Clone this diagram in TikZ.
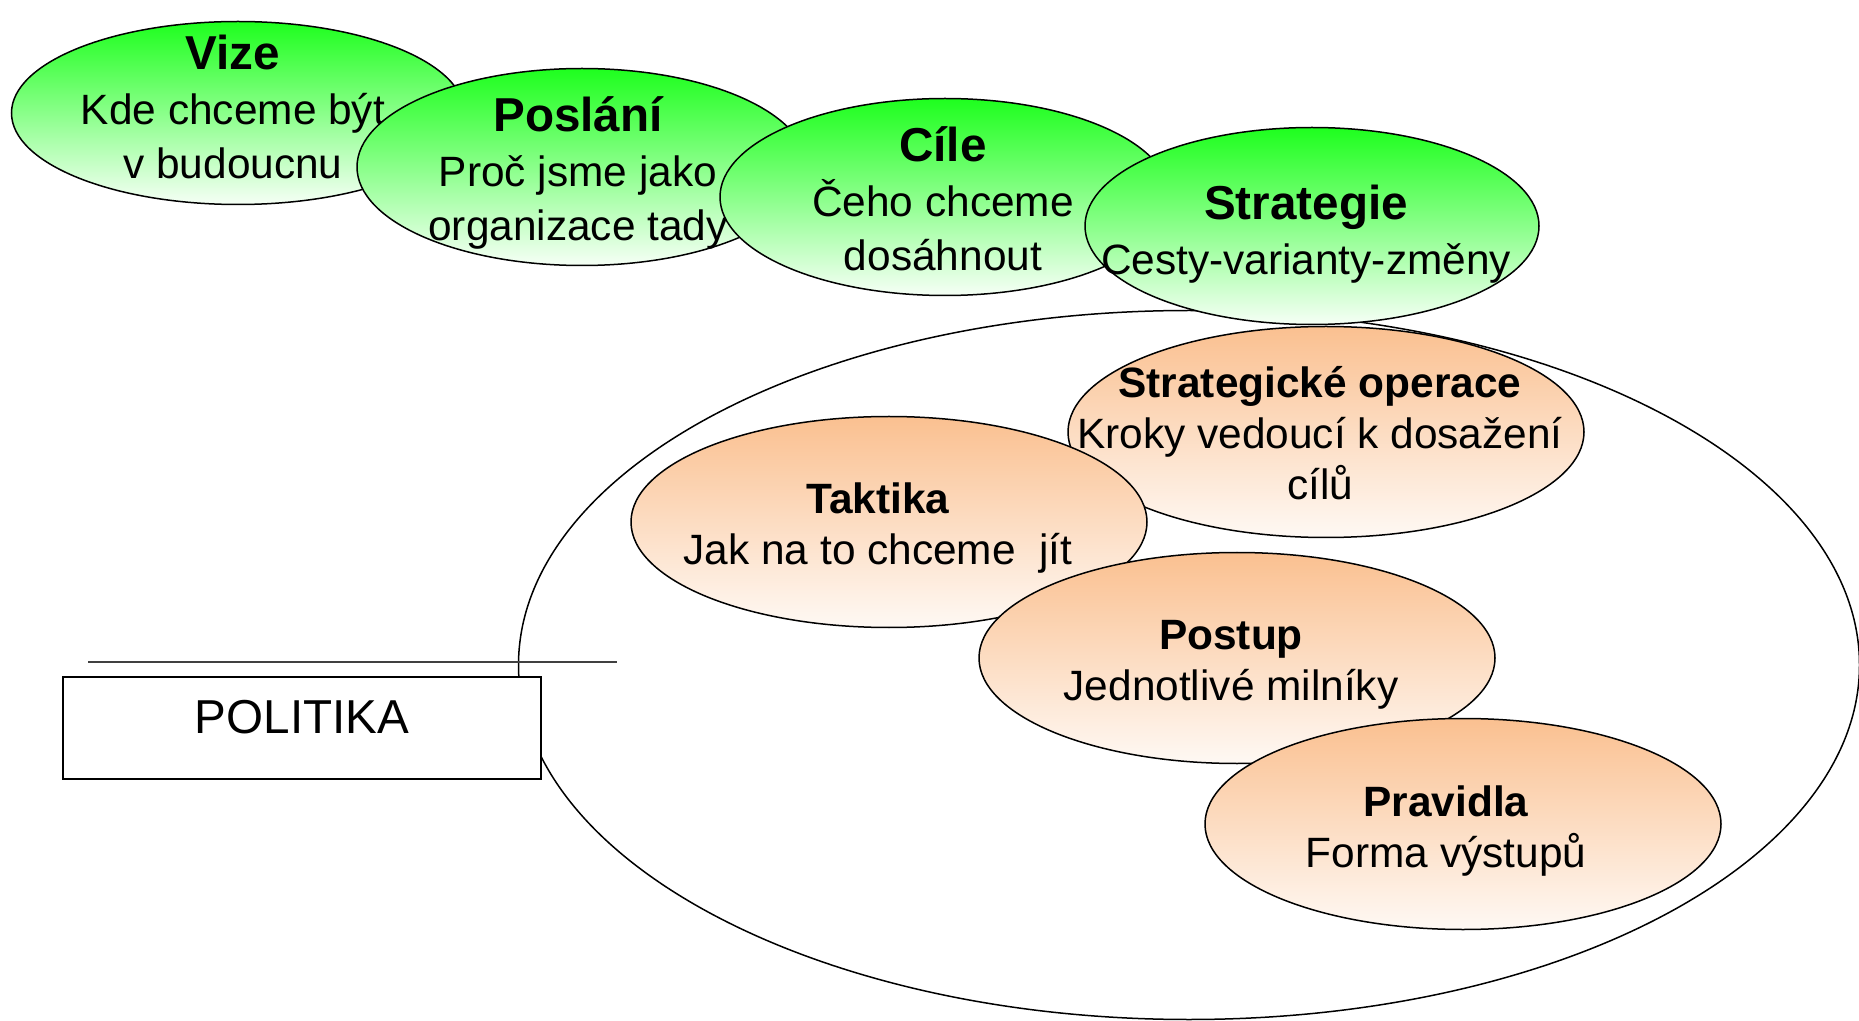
\documentclass[tikz,border=0pt]{standalone}
\usepackage{fontspec}
\setmainfont{Liberation Sans}
\usetikzlibrary{shapes.geometric}
\definecolor{topgreen}{RGB}{30,255,30}
\definecolor{toporange}{RGB}{250,192,144}
\colorlet{bottomgreen}{topgreen!4!white}
\colorlet{bottomorange}{toporange!10!white}
\newcommand\nadpis{\fontsize{23.8}{27.3}\selectfont\bfseries}
\newcommand\oranzovynadpis{\bfseries}

\begin{document}
\begin{tikzpicture}
  [x=0.5pt, y=-0.5pt,
   pojem/.style 2 args={
     ellipse,
     draw,
     line width=0.75pt,
     inner sep=0pt,
     minimum width=#1,
     minimum height=#2
     },
   zelena/.style={pojem={225pt}{98.5pt}, top color=topgreen, bottom color=bottomgreen},
   oranzova/.style={pojem={258pt}{105.5pt}, top color=toporange, bottom color=bottomorange},
   popis/.style={align=center, font=\fontsize{21.2}{27.3}\selectfont},
   oranzovypopis/.style={align=center, font=\fontsize{21.2}{25.4}\selectfont}
  ]
  \useasboundingbox (0,0) rectangle (1859,1021);

  % velka elipsa pod vsim
  \node [pojem={670.5pt}{354.5pt}] (oblast) at (1189,665) {};

  \node [zelena, minimum height=91.5pt, minimum width=226.5pt] (vize) at (238,113) {};
  \node [popis] (vizetext) at (233,107) {{\nadpis Vize}\\Kde chceme být\\v budoucnu};

  \node [zelena] (poslani) at (582,167) {};
  \node [popis] (poslanitext) at (578,173) {{\nadpis Poslání}\\Proč jsme jako\\organizace tady};

  \node [zelena] (cile) at (945,197) {};
  \node [popis] (ciletext) at (943,199) {{\nadpis Cíle}\\Čeho chceme\\dosáhnout};

  \node [zelena, minimum width=227pt] (strategie) at (1312,226) {};
  \node [popis] (strategietext) at (1306,234) {{\nadpis Strategie}\\Cesty-varianty-změny};

  \node [oranzova] (operace) at (1326,432) {};
  \node [oranzovypopis] (operacetext) at (1320,433) {{\oranzovynadpis Strategické operace}\\Kroky vedoucí k dosažení\\cílů};

  \node [oranzova] (taktika) at (889,522) {};
  \node [oranzovypopis] (taktikatext) at (878,528) {{\oranzovynadpis Taktika}\\Jak na to chceme~ jít};

  \node [oranzova] (postup) at (1237,658) {};
  \node [oranzovypopis] (postuptext) at (1231,665) {{\oranzovynadpis Postup}\\Jednotlivé milníky};

  \node [oranzova] (pravidla) at (1463,824) {};
  \node [oranzovypopis] (pravidlatext) at (1446,831) {{\oranzovynadpis Pravidla}\\Forma výstupů};

  \coordinate (carazleva) at (88,662);
  \coordinate (carazprava) at (617,662);
  \draw [line width=1pt, black!75] (carazleva) -- (carazprava);

  \node [
    rectangle,
    draw,
    fill=white,
    line width=0.75pt,
    minimum width=239pt,
    minimum height=51pt,
    text depth=11pt,
    font=\fontsize{23.8}{27}\selectfont
    ]
    (politika) at (302,728) {POLITIKA};
\end{tikzpicture}
\end{document}
